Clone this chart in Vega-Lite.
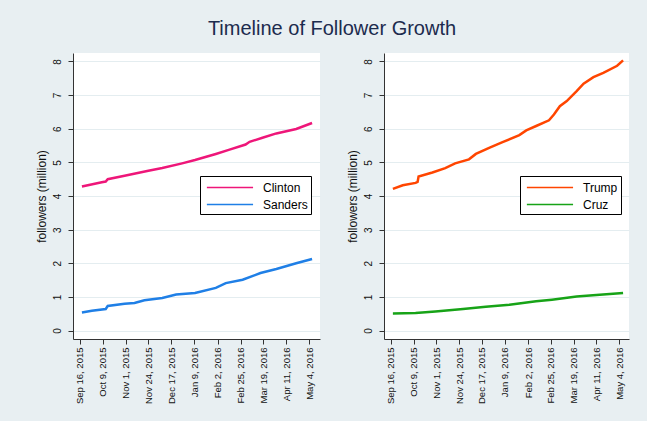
{
  "$schema": "https://vega.github.io/schema/vega-lite/v6.json",
  "background": "#e8eff2",
  "padding": {"left": 35, "top": 19, "right": 24, "bottom": 21},
  "title": {"text": "Timeline of Follower Growth", "fontSize": 20, "font": "Liberation Sans", "fontWeight": "normal", "color": "#1c2b4e", "anchor": "middle", "offset": 14},
  "datasets": {
    "dem": [
      {"date": "2015-09-18", "candidate": "Clinton", "followers": 4.28},
      {"date": "2015-10-08", "candidate": "Clinton", "followers": 4.41},
      {"date": "2015-10-12", "candidate": "Clinton", "followers": 4.43},
      {"date": "2015-10-14", "candidate": "Clinton", "followers": 4.50},
      {"date": "2015-10-31", "candidate": "Clinton", "followers": 4.60},
      {"date": "2015-11-24", "candidate": "Clinton", "followers": 4.75},
      {"date": "2015-12-08", "candidate": "Clinton", "followers": 4.83},
      {"date": "2015-12-28", "candidate": "Clinton", "followers": 4.97},
      {"date": "2016-01-10", "candidate": "Clinton", "followers": 5.07},
      {"date": "2016-01-31", "candidate": "Clinton", "followers": 5.25},
      {"date": "2016-02-13", "candidate": "Clinton", "followers": 5.37},
      {"date": "2016-03-01", "candidate": "Clinton", "followers": 5.53},
      {"date": "2016-03-05", "candidate": "Clinton", "followers": 5.61},
      {"date": "2016-03-18", "candidate": "Clinton", "followers": 5.73},
      {"date": "2016-04-01", "candidate": "Clinton", "followers": 5.86},
      {"date": "2016-04-21", "candidate": "Clinton", "followers": 5.99},
      {"date": "2016-05-07", "candidate": "Clinton", "followers": 6.17},
      {"date": "2015-09-18", "candidate": "Sanders", "followers": 0.54},
      {"date": "2015-09-28", "candidate": "Sanders", "followers": 0.59},
      {"date": "2015-10-12", "candidate": "Sanders", "followers": 0.64},
      {"date": "2015-10-14", "candidate": "Sanders", "followers": 0.73},
      {"date": "2015-10-31", "candidate": "Sanders", "followers": 0.80},
      {"date": "2015-11-10", "candidate": "Sanders", "followers": 0.82},
      {"date": "2015-11-20", "candidate": "Sanders", "followers": 0.90},
      {"date": "2015-12-08", "candidate": "Sanders", "followers": 0.97},
      {"date": "2015-12-22", "candidate": "Sanders", "followers": 1.07},
      {"date": "2016-01-10", "candidate": "Sanders", "followers": 1.12},
      {"date": "2016-01-31", "candidate": "Sanders", "followers": 1.27},
      {"date": "2016-02-10", "candidate": "Sanders", "followers": 1.41},
      {"date": "2016-02-27", "candidate": "Sanders", "followers": 1.51},
      {"date": "2016-03-16", "candidate": "Sanders", "followers": 1.71},
      {"date": "2016-04-01", "candidate": "Sanders", "followers": 1.83},
      {"date": "2016-04-21", "candidate": "Sanders", "followers": 2.00},
      {"date": "2016-05-07", "candidate": "Sanders", "followers": 2.13}
    ],
    "rep": [
      {"date": "2015-09-18", "candidate": "Trump", "followers": 4.21},
      {"date": "2015-09-28", "candidate": "Trump", "followers": 4.32},
      {"date": "2015-10-11", "candidate": "Trump", "followers": 4.39},
      {"date": "2015-10-13", "candidate": "Trump", "followers": 4.42},
      {"date": "2015-10-14", "candidate": "Trump", "followers": 4.58},
      {"date": "2015-10-28", "candidate": "Trump", "followers": 4.70},
      {"date": "2015-11-10", "candidate": "Trump", "followers": 4.83},
      {"date": "2015-11-20", "candidate": "Trump", "followers": 4.97},
      {"date": "2015-12-04", "candidate": "Trump", "followers": 5.09},
      {"date": "2015-12-11", "candidate": "Trump", "followers": 5.25},
      {"date": "2015-12-25", "candidate": "Trump", "followers": 5.44},
      {"date": "2016-01-07", "candidate": "Trump", "followers": 5.60},
      {"date": "2016-01-24", "candidate": "Trump", "followers": 5.81},
      {"date": "2016-01-31", "candidate": "Trump", "followers": 5.95},
      {"date": "2016-02-10", "candidate": "Trump", "followers": 6.08},
      {"date": "2016-02-23", "candidate": "Trump", "followers": 6.25},
      {"date": "2016-02-28", "candidate": "Trump", "followers": 6.42},
      {"date": "2016-03-05", "candidate": "Trump", "followers": 6.67},
      {"date": "2016-03-12", "candidate": "Trump", "followers": 6.82},
      {"date": "2016-03-22", "candidate": "Trump", "followers": 7.12},
      {"date": "2016-03-29", "candidate": "Trump", "followers": 7.34},
      {"date": "2016-04-08", "candidate": "Trump", "followers": 7.53},
      {"date": "2016-04-18", "candidate": "Trump", "followers": 7.66},
      {"date": "2016-05-02", "candidate": "Trump", "followers": 7.87},
      {"date": "2016-05-08", "candidate": "Trump", "followers": 8.03},
      {"date": "2015-09-18", "candidate": "Cruz", "followers": 0.51},
      {"date": "2015-10-11", "candidate": "Cruz", "followers": 0.52},
      {"date": "2015-10-31", "candidate": "Cruz", "followers": 0.57},
      {"date": "2015-11-28", "candidate": "Cruz", "followers": 0.64},
      {"date": "2015-12-21", "candidate": "Cruz", "followers": 0.71},
      {"date": "2016-01-14", "candidate": "Cruz", "followers": 0.77},
      {"date": "2016-02-10", "candidate": "Cruz", "followers": 0.87},
      {"date": "2016-02-26", "candidate": "Cruz", "followers": 0.92},
      {"date": "2016-03-22", "candidate": "Cruz", "followers": 1.01},
      {"date": "2016-04-11", "candidate": "Cruz", "followers": 1.06},
      {"date": "2016-05-08", "candidate": "Cruz", "followers": 1.12}
    ]
  },
  "spacing": 26,
  "resolve": {"scale": {"color": "independent"}, "legend": {"color": "independent"}},
  "hconcat": [
    {
      "width": 247, "height": 286,
      "data": {"name": "dem"},
      "mark": {"type": "line", "strokeWidth": 2.5},
      "encoding": {
        "x": {"field": "date", "type": "temporal",
          "scale": {"type": "utc", "domain": [{"year": 2015, "month": 9, "date": 9, "utc": true}, {"year": 2016, "month": 5, "date": 15, "utc": true}]},
          "axis": {"title": null, "grid": false, "labelAngle": 270, "labelExpr": "utcFormat(datum.value, '%b %-d, %Y')",
            "values": [
              {"year": 2015, "month": 9, "date": 16, "utc": true},
              {"year": 2015, "month": 10, "date": 9, "utc": true},
              {"year": 2015, "month": 11, "date": 1, "utc": true},
              {"year": 2015, "month": 11, "date": 24, "utc": true},
              {"year": 2015, "month": 12, "date": 17, "utc": true},
              {"year": 2016, "month": 1, "date": 9, "utc": true},
              {"year": 2016, "month": 2, "date": 2, "utc": true},
              {"year": 2016, "month": 2, "date": 25, "utc": true},
              {"year": 2016, "month": 3, "date": 19, "utc": true},
              {"year": 2016, "month": 4, "date": 11, "utc": true},
              {"year": 2016, "month": 5, "date": 4, "utc": true}
            ]}},
        "y": {"field": "followers", "type": "quantitative",
          "scale": {"domain": [-0.25, 8.25], "nice": false, "zero": false},
          "axis": {"title": "followers (million)", "values": [0, 1, 2, 3, 4, 5, 6, 7, 8], "labelAngle": 270}},
        "color": {"field": "candidate", "type": "nominal",
          "scale": {"domain": ["Clinton", "Sanders"], "range": ["#ee1679", "#1f7fe6"]},
          "legend": {"title": null, "orient": "none", "legendX": 127, "legendY": 123,
            "encode": {"symbols": {"update": {"strokeWidth": {"value": 1.3}, "fill": {"value": "transparent"}}}}}}
      }
    },
    {
      "width": 245, "height": 286,
      "data": {"name": "rep"},
      "mark": {"type": "line", "strokeWidth": 2.5},
      "encoding": {
        "x": {"field": "date", "type": "temporal",
          "scale": {"type": "utc", "domain": [{"year": 2015, "month": 9, "date": 9, "utc": true}, {"year": 2016, "month": 5, "date": 14, "utc": true}]},
          "axis": {"title": null, "grid": false, "labelAngle": 270, "labelExpr": "utcFormat(datum.value, '%b %-d, %Y')",
            "values": [
              {"year": 2015, "month": 9, "date": 16, "utc": true},
              {"year": 2015, "month": 10, "date": 9, "utc": true},
              {"year": 2015, "month": 11, "date": 1, "utc": true},
              {"year": 2015, "month": 11, "date": 24, "utc": true},
              {"year": 2015, "month": 12, "date": 17, "utc": true},
              {"year": 2016, "month": 1, "date": 9, "utc": true},
              {"year": 2016, "month": 2, "date": 2, "utc": true},
              {"year": 2016, "month": 2, "date": 25, "utc": true},
              {"year": 2016, "month": 3, "date": 19, "utc": true},
              {"year": 2016, "month": 4, "date": 11, "utc": true},
              {"year": 2016, "month": 5, "date": 4, "utc": true}
            ]}},
        "y": {"field": "followers", "type": "quantitative",
          "scale": {"domain": [-0.25, 8.25], "nice": false, "zero": false},
          "axis": {"title": "followers (million)", "values": [0, 1, 2, 3, 4, 5, 6, 7, 8], "labelAngle": 270}},
        "color": {"field": "candidate", "type": "nominal",
          "scale": {"domain": ["Trump", "Cruz"], "range": ["#ff4500", "#17a317"]},
          "legend": {"title": null, "orient": "none", "legendX": 136, "legendY": 123,
            "encode": {"symbols": {"update": {"strokeWidth": {"value": 1.3}, "fill": {"value": "transparent"}}}}}}
      }
    }
  ],
  "config": {
    "font": "Liberation Sans",
    "view": {"fill": "white", "stroke": null},
    "axis": {
      "domainColor": "#333333", "tickColor": "#333333", "tickSize": 5, "domainWidth": 1,
      "labelFont": "Liberation Sans", "labelColor": "#111111", "labelFontSize": 10,
      "titleFont": "Liberation Sans", "titleFontWeight": "normal", "titleFontSize": 12, "titleColor": "#111111",
      "gridColor": "#e4edf0", "gridWidth": 1
    },
    "axisX": {"labelFontSize": 9.5, "labelPadding": 3},
    "axisY": {"labelPadding": 6, "titlePadding": 4},
    "legend": {
      "symbolType": "M-0.6,0H5.4", "symbolSize": 237, "symbolStrokeWidth": 1.3,
      "labelFont": "Liberation Sans", "labelFontSize": 12, "labelColor": "#000000",
      "strokeColor": "#000000", "fillColor": "#ffffff", "padding": 3, "rowPadding": 2, "labelOffset": 43
    }
  }
}
